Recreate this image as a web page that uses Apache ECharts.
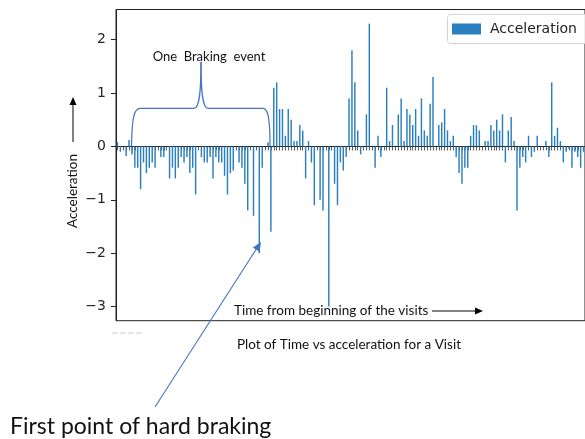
<!DOCTYPE html>
<html>
<head>
<meta charset="utf-8">
<script src="https://cdn.jsdelivr.net/npm/echarts@6/dist/echarts.min.js"></script>
<style>
html,body{margin:0;padding:0;background:#fff;}
#chart{width:585px;height:439px;}
</style>
</head>
<body>
<div id="chart"></div>
<script>
// Acceleration per time step during one visit
const accelPartA = [0.08,-0.1,0,-0.18,0.12,-0.15,-0.4,-0.4,-0.8,-0.3,
  -0.5,-0.4,-0.3,-0.4,0,-0.2,-0.2,0,-0.6,-0.4,
  -0.6,-0.4,-0.2,-0.3,-0.2,-0.5,-0.4,-0.9,0,-0.2,
  -0.3,-0.3,-0.2,-0.6,-0.2,-0.3,-0.3,-0.55,-0.9,-0.5,
  -0.45,0,-0.3,-0.4,-0.7,-1.2,0,-1.3,0,-2.0,-0.4];
const accelPartB = [0,0.08,-1.6,1.1,1.2,0.7,0.7,0.2,0.7,0.5,
  0.1,0.1,0.4,0.3,-0.6,0.1,-0.3,-1.1,0,-1.0,
  -1.2,0,-3.0,0,-0.7,-1.1,-0.3,-0.45,-0.2,0.9,
  1.8,1.2,0.3,-0.15,0,0.6,2.3,0,-0.4,0.2,
  -0.2,0,1.1,0.1,0.4,0,0.6,0.9,0.1,0.7,
  0.6,0.4,0.7,0.2,0.9,0.3,0.2];
const accelPartC = [0.8,1.3,0,0.4,0.45,0.7,0.3,0.1,0.2,-0.2,
  -0.5,-0.7,-0.4,-0.4,0.2,0.4,0.4,0.3,0,0.1,
  0.1,0.4,0.3,0.5,0.3,0.6,-0.3,0.3,0.55,0.1,
  -1.2,-0.4,-0.2,-0.3,0.2,-0.2,-0.1,0.2,0,0,
  0.1,-0.2,1.2,0.2,0.35,0.1,-0.3,-0.1,-0.05,-0.4,
  -0.1,-0.2,-0.4,-0.1];
const accel = accelPartA.concat(accelPartB, accelPartC);
const timeSteps = accel.map((_, i) => String(i));
const yTicks = [-3,-2,-1,0,1,2];
const seriesName = 'Acceleration';

const blue = '#4472c4';
const chart = echarts.init(document.getElementById('chart'), null, {renderer:'canvas'});

function arrowHead(tip, from, len, half, color){
  const dx = tip[0]-from[0], dy = tip[1]-from[1];
  const L = Math.sqrt(dx*dx+dy*dy);
  const ux = dx/L, uy = dy/L;
  const bx = tip[0]-ux*len, by = tip[1]-uy*len;
  return {type:'polygon', shape:{points:[tip,[bx-uy*half, by+ux*half],[bx+uy*half, by-ux*half]]}, style:{fill:color}, z:100};
}

const annFont = 'Lato, "Open Sans", sans-serif';

chart.setOption({
  animation:false,
  backgroundColor:'#fff',
  grid:{left:116, top:9.5, right:-2, bottom:118.3, show:true, borderColor:'#222', borderWidth:1, containLabel:false},
  legend:{
    show:true, data:[seriesName], left:447, top:14, z:10,
    itemWidth:29, itemHeight:11, itemGap:9,
    icon:'rect',
    padding:[8,8,8,5],
    textStyle:{fontFamily:'DejaVu Sans', fontSize:14, color:'#222', padding:[0,0,0,4]}
  },
  xAxis:{
    type:'category', data:timeSteps,
    boundaryGap:true,
    axisLine:{show:true, lineStyle:{color:'#222', width:1}},
    axisTick:{show:true, interval:0, alignWithLabel:true, length:4, lineStyle:{color:'#333', width:0.8}},
    axisLabel:{show:false},
    splitLine:{show:false}
  },
  yAxis:{
    type:'value', min:-3.265, max:2.565,
    axisLine:{show:true, lineStyle:{color:'#222', width:1}},
    axisTick:{show:true, length:5, customValues:yTicks, lineStyle:{color:'#222', width:1}},
    axisLabel:{show:true, customValues:yTicks, margin:10, fontFamily:'DejaVu Sans', fontSize:14, color:'#262626',
      formatter: v => (v < 0 ? '\u2212' + Math.abs(v) : String(v))},
    splitLine:{show:false}
  },
  series:[{
    name:seriesName, type:'bar', data:accel,
    barWidth:'50%',
    itemStyle:{color:'#2a7fbf'}
  }],
  graphic:[
    // legend frame (extends past the cropped right edge)
    {type:'rect', z:5, shape:{x:447.5, y:14.5, width:170, height:29, r:3}, style:{fill:'rgba(255,255,255,0.85)', stroke:'#d5d5d5', lineWidth:1}},
    // curly brace "One Braking event"
    {type:'bezierCurve', shape:{x1:131.5,y1:146,cpx1:132,cpy1:118,cpx2:134,cpy2:108.3,x2:140,y2:108.3}, style:{stroke:blue, lineWidth:1.2, fill:null}},
    {type:'line', shape:{x1:140,y1:108.3,x2:194,y2:108.3}, style:{stroke:blue, lineWidth:1.2}},
    {type:'bezierCurve', shape:{x1:194,y1:108.3,cpx1:199.5,cpy1:108.3,cpx2:201,cpy2:92,x2:201,y2:62}, style:{stroke:blue, lineWidth:1.2, fill:null}},
    {type:'bezierCurve', shape:{x1:201,y1:62,cpx1:201,cpy1:92,cpx2:202.5,cpy2:108.3,x2:208,y2:108.3}, style:{stroke:blue, lineWidth:1.2, fill:null}},
    {type:'line', shape:{x1:208,y1:108.3,x2:263,y2:108.3}, style:{stroke:blue, lineWidth:1.2}},
    {type:'bezierCurve', shape:{x1:263,y1:108.3,cpx1:268,cpy1:108.3,cpx2:270,cpy2:118,x2:270,y2:146}, style:{stroke:blue, lineWidth:1.2, fill:null}},
    {type:'text', x:209, y:57, style:{text:'One  Braking  event', font:'13px '+annFont, fill:'#111', textAlign:'center', textVerticalAlign:'middle'}},
    // y label with arrow
    {type:'text', x:73, y:191, rotation:Math.PI/2, style:{text:'Acceleration', font:'13.5px '+annFont, fill:'#111', textAlign:'center', textVerticalAlign:'middle'}},
    {type:'line', shape:{x1:73,y1:142,x2:73,y2:104}, style:{stroke:'#000', lineWidth:1}},
    arrowHead([73,97],[73,142],8,3.5,'#000'),
    // x "time" label with arrow
    {type:'text', x:234, y:311, style:{text:'Time from beginning of the visits', font:'13.5px '+annFont, fill:'#111', textAlign:'left', textVerticalAlign:'middle'}},
    {type:'line', shape:{x1:432,y1:311,x2:476,y2:311}, style:{stroke:'#000', lineWidth:1}},
    arrowHead([483,311],[432,311],8,3.5,'#000'),
    // caption
    {type:'text', x:349, y:345, style:{text:'Plot of Time vs acceleration for a Visit', font:'13.5px '+annFont, fill:'#111', textAlign:'center', textVerticalAlign:'middle'}},
    // clipped label remnants
    {type:'line', shape:{x1:112,y1:333,x2:142,y2:333}, style:{stroke:'#c8c8c8', lineWidth:1, lineDash:[6,2]}},
    // hard braking callout
    {type:'line', shape:{x1:155,y1:407,x2:257,y2:248}, style:{stroke:blue, lineWidth:1.1}},
    arrowHead([261,242],[155,407],9,4,blue),
    {type:'text', x:10, y:427, style:{text:'First point of hard braking', font:'23px '+annFont, fill:'#111', textAlign:'left', textVerticalAlign:'middle'}}
  ]
});
</script>
</body>
</html>
